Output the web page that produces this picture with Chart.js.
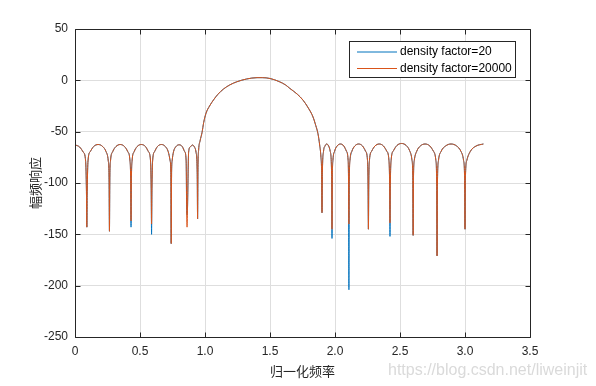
<!DOCTYPE html>
<html>
<head>
<meta charset="utf-8">
<script src="https://cdn.jsdelivr.net/npm/chart.js@4.4.0/dist/chart.umd.min.js"></script>
<style>
    html, body { margin: 0; padding: 0; background: #fff; }
</style>
</head>
<body>
<canvas id="freqChart" width="596" height="386"></canvas>
<script>
const seriesNames = ['density factor=20', 'density factor=20000'];
const seriesColors = ['#0072BD', '#D95319'];
const xTicks = [0, 0.5, 1, 1.5, 2, 2.5, 3, 3.5];
const yTicks = [-250, -200, -150, -100, -50, 0, 50];

// normalized frequency (one row per lobe / null)
const freq = [
    0, 0.036, 0.064, 0.082,
    0.088, 0.091, 0.094,
    0.100, 0.117, 0.143, 0.178, 0.213, 0.239, 0.256,
    0.262, 0.265, 0.268,
    0.273, 0.290, 0.315, 0.348, 0.381, 0.406, 0.423,
    0.428, 0.431, 0.434,
    0.439, 0.455, 0.478, 0.510, 0.542, 0.565, 0.581,
    0.586, 0.589, 0.592,
    0.597, 0.612, 0.634, 0.665, 0.695, 0.717, 0.732,
    0.737, 0.740, 0.743,
    0.747, 0.758, 0.777, 0.801, 0.825, 0.844, 0.855,
    0.859, 0.862, 0.865,
    0.874, 0.886, 0.903, 0.919, 0.931,
    0.940, 0.943, 0.946,
    0.951, 0.962, 0.977, 0.990, 1.008, 1.035, 1.066, 1.100, 1.142, 1.190, 1.245, 1.320, 1.400,
    1.440, 1.500, 1.570, 1.620, 1.653, 1.710, 1.754, 1.795, 1.831, 1.852, 1.869, 1.882, 1.892,
    1.897, 1.900, 1.903,
    1.912, 1.923, 1.936, 1.951, 1.963,
    1.974, 1.977, 1.980,
    1.984, 1.997, 2.016, 2.042, 2.068, 2.088, 2.101,
    2.104, 2.107, 2.110,
    2.115, 2.130, 2.152, 2.182, 2.212, 2.235, 2.250,
    2.254, 2.257, 2.260,
    2.265, 2.282, 2.307, 2.340, 2.373, 2.398, 2.415,
    2.420, 2.423, 2.426,
    2.432, 2.450, 2.476, 2.512, 2.548, 2.574, 2.592,
    2.598, 2.601, 2.604,
    2.610, 2.629, 2.656, 2.693, 2.730, 2.757, 2.776,
    2.782, 2.785, 2.788,
    2.796, 2.817, 2.850, 2.893, 2.936, 2.968, 2.989,
    2.997, 3.000, 3.003,
    3.014, 3.042, 3.085, 3.1416
];

// magnitude (dB), density factor = 20
const mag20 = [
    -62.8, -65, -70, -79,
    -108, -143, -108,
    -78.5, -69.5, -64.5, -62.5, -64.5, -69.5, -78.5,
    -95, -147, -95,
    -78.5, -69.5, -64.5, -62.5, -64.5, -69.5, -78.5,
    -96, -143, -96,
    -78.5, -69.5, -64.5, -62.5, -64.5, -69.5, -78.5,
    -105, -150, -105,
    -78.5, -69.5, -64.5, -62.5, -64.5, -69.5, -78.5,
    -90, -159, -90,
    -78.5, -69.5, -64.5, -62.8, -64.5, -69.5, -78.5,
    -127, -131, -127,
    -70, -65, -63, -65, -70,
    -90, -135, -85,
    -68, -59, -51, -41, -32, -25, -19, -13.5, -8.5, -4.5, -1.4, 1.3, 2.6,
    2.6, 1.8, -1.2, -4.5, -7.9, -13.5, -19.3, -27, -35.7, -44, -52, -63, -75,
    -90, -129, -90,
    -69, -64, -62, -64, -69,
    -92, -154, -92,
    -78, -69, -64, -62, -64, -69, -78,
    -97, -204, -97,
    -78, -69, -64, -62, -64, -69, -78,
    -98, -145, -98,
    -78, -69, -64, -62, -64, -69, -78,
    -100, -152, -100,
    -77.5, -68.5, -63.5, -61.5, -63.5, -68.5, -77.5,
    -93, -151, -93,
    -78, -69, -64, -62, -64, -69, -78,
    -101, -171, -101,
    -78, -69, -64, -62, -64, -69, -78,
    -96, -145, -96,
    -78, -69, -64, -62
];

// magnitude (dB), density factor = 20000
const mag20000 = [
    -62.8, -65, -70, -79,
    -108, -143, -108,
    -78.5, -69.5, -64.5, -62.5, -64.5, -69.5, -78.5,
    -95, -147, -95,
    -78.5, -69.5, -64.5, -62.5, -64.5, -69.5, -78.5,
    -96, -137, -96,
    -78.5, -69.5, -64.5, -62.5, -64.5, -69.5, -78.5,
    -105, -140, -105,
    -78.5, -69.5, -64.5, -62.5, -64.5, -69.5, -78.5,
    -90, -159, -90,
    -78.5, -69.5, -64.5, -62.8, -64.5, -69.5, -78.5,
    -127, -143, -127,
    -70, -65, -63, -65, -70,
    -90, -135, -85,
    -68, -59, -51, -41, -32, -25, -19, -13.5, -8.5, -4.5, -1.4, 1.3, 2.6,
    2.6, 1.8, -1.2, -4.5, -7.9, -13.5, -19.3, -27, -35.7, -44, -52, -63, -75,
    -90, -129, -90,
    -69, -64, -62, -64, -69,
    -92, -145, -92,
    -78, -69, -64, -62, -64, -69, -78,
    -97, -140, -97,
    -78, -69, -64, -62, -64, -69, -78,
    -98, -145, -98,
    -78, -69, -64, -62, -64, -69, -78,
    -100, -139, -100,
    -77.5, -68.5, -63.5, -61.5, -63.5, -68.5, -77.5,
    -93, -151, -93,
    -78, -69, -64, -62, -64, -69, -78,
    -101, -171, -101,
    -78, -69, -64, -62, -64, -69, -78,
    -96, -145, -96,
    -78, -69, -64, -62
];

const axisColor = '#262626';
const gridColor = '#dedede';
const tickFont = { family: '"Liberation Sans", Arial, sans-serif', size: 12 };

// MATLAB-like box, inward ticks and legend
const matlabAxes = {
    id: 'matlabAxes',
    afterDraw(chart) {
        const { ctx, chartArea: a, scales: { x, y } } = chart;
        const L = Math.round(a.left) + 0.5, R = Math.round(a.right) + 0.5;
        const T = Math.round(a.top) + 0.5, B = Math.round(a.bottom) + 0.5;
        ctx.save();
        ctx.strokeStyle = axisColor;
        ctx.lineWidth = 1;
        ctx.beginPath();
        ctx.rect(L, T, R - L, B - T);
        xTicks.forEach(v => {
            const px = Math.round(x.getPixelForValue(v)) + 0.5;
            ctx.moveTo(px, B); ctx.lineTo(px, B - 5);
            ctx.moveTo(px, T); ctx.lineTo(px, T + 5);
        });
        yTicks.forEach(v => {
            const py = Math.round(y.getPixelForValue(v)) + 0.5;
            ctx.moveTo(L, py); ctx.lineTo(L + 5, py);
            ctx.moveTo(R, py); ctx.lineTo(R - 5, py);
        });
        ctx.stroke();

        // legend
        const bx = 349.5, by = 41.5, bw = 166, bh = 36;
        ctx.fillStyle = '#fff';
        ctx.fillRect(bx, by, bw, bh);
        ctx.strokeRect(bx, by, bw, bh);
        ctx.font = '12px "Liberation Sans", Arial, sans-serif';
        ctx.textBaseline = 'middle';
        seriesNames.forEach((name, i) => {
            const ly = 52 + i * 16.5;
            ctx.strokeStyle = seriesColors[i];
            ctx.beginPath();
            ctx.moveTo(357, ly); ctx.lineTo(397, ly);
            ctx.stroke();
            ctx.fillStyle = '#000';
            ctx.fillText(name, 400, ly);
        });

        // watermark
        ctx.font = '16px "Liberation Sans", Arial, sans-serif';
        ctx.fillStyle = '#dadada';
        ctx.fillText('https://blog.csdn.net/liweinjit', 388, 371);
        ctx.restore();
    }
};

const makePoints = ys => freq.map((f, i) => ({ x: f, y: ys[i] }));

new Chart(document.getElementById('freqChart'), {
    type: 'line',
    data: {
        datasets: [{
            label: seriesNames[1],
            data: makePoints(mag20000),
            borderColor: seriesColors[1],
            borderWidth: 1,
            pointRadius: 0,
            cubicInterpolationMode: 'monotone',
            order: 0
        }, {
            label: seriesNames[0],
            data: makePoints(mag20),
            borderColor: seriesColors[0],
            borderWidth: 1,
            pointRadius: 0,
            cubicInterpolationMode: 'monotone',
            order: 1
        }]
    },
    options: {
        responsive: false,
        animation: false,
        layout: { padding: { top: 29, right: 66, bottom: 0, left: 0 } },
        plugins: {
            legend: { display: false },
            tooltip: { enabled: false }
        },
        scales: {
            x: {
                type: 'linear',
                min: 0,
                max: 3.5,
                afterBuildTicks: s => { s.ticks = xTicks.map(v => ({ value: v })); },
                afterFit: s => { s.height = 49; },
                grid: { color: gridColor, drawTicks: false },
                border: { display: false },
                ticks: { color: axisColor, font: tickFont, padding: 7, maxRotation: 0 },
                title: {
                    display: true,
                    text: '归一化频率',
                    color: axisColor,
                    font: { family: '"Noto Sans CJK SC", sans-serif', size: 13 },
                    padding: { top: 0, bottom: 7 }
                }
            },
            y: {
                min: -250,
                max: 50,
                afterBuildTicks: s => { s.ticks = yTicks.map(v => ({ value: v })); },
                afterFit: s => { s.width = 75; },
                grid: { color: gridColor, drawTicks: false },
                border: { display: false },
                ticks: { color: axisColor, font: tickFont, padding: 7 },
                title: {
                    display: true,
                    text: '幅频响应',
                    color: axisColor,
                    font: { family: '"Noto Sans CJK SC", sans-serif', size: 13 },
                    padding: { top: 27, bottom: 0 }
                }
            }
        }
    },
    plugins: [matlabAxes]
});
</script>
</body>
</html>
